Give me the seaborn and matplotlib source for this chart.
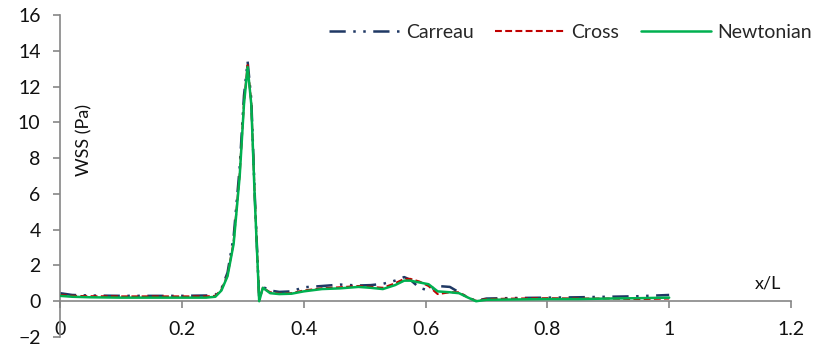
import numpy as np
import pandas as pd
import matplotlib
matplotlib.use("Agg")
import matplotlib.pyplot as plt
import seaborn as sns

# ---- data ----
x_over_L = [0, 0.02, 0.05, 0.1, 0.15, 0.2, 0.24, 0.255, 0.265, 0.275, 0.285, 0.295,
            0.302, 0.308, 0.314, 0.32, 0.327, 0.333, 0.345, 0.36, 0.38, 0.4, 0.43,
            0.46, 0.49, 0.51, 0.53, 0.55, 0.565, 0.575, 0.59, 0.605, 0.62, 0.64,
            0.655, 0.67, 0.683, 0.7, 0.75, 0.8, 0.85, 0.9, 0.95, 1.0]

carreau = [0.45, 0.35, 0.32, 0.30, 0.30, 0.30, 0.32, 0.35, 0.70, 1.6, 3.6, 7.5,
           11.5, 13.4, 11.3, 5.7, 0.10, 0.80, 0.60, 0.52, 0.55, 0.78, 0.85,
           0.93, 0.88, 0.90, 0.97, 1.15, 1.35, 1.20, 0.75, 0.60, 0.85, 0.80,
           0.50, 0.20, 0.02, 0.15, 0.18, 0.20, 0.22, 0.25, 0.28, 0.35]

cross = [0.35, 0.30, 0.28, 0.27, 0.27, 0.27, 0.27, 0.30, 0.65, 1.45, 3.3, 7.1,
         11.1, 13.2, 11.1, 5.6, 0.05, 0.75, 0.50, 0.42, 0.45, 0.60, 0.72,
         0.78, 0.85, 0.80, 0.75, 1.00, 1.25, 1.25, 1.10, 0.85, 0.40, 0.50,
         0.50, 0.20, 0.02, 0.12, 0.15, 0.17, 0.15, 0.15, 0.12, 0.15]

newtonian = [0.30, 0.25, 0.22, 0.20, 0.20, 0.20, 0.20, 0.25, 0.60, 1.4, 3.2, 7.0,
             11.0, 13.1, 11.0, 5.5, 0.0, 0.75, 0.45, 0.40, 0.42, 0.55, 0.68,
             0.72, 0.80, 0.75, 0.68, 0.90, 1.15, 1.15, 1.05, 0.95, 0.55, 0.50,
             0.45, 0.20, 0.0, 0.08, 0.10, 0.12, 0.12, 0.15, 0.17, 0.20]

series_names = ["Carreau", "Cross", "Newtonian"]
x_ticks = [0, 0.2, 0.4, 0.6, 0.8, 1, 1.2]
x_tick_labels = ["0", "0.2", "0.4", "0.6", "0.8", "1", "1.2"]
y_ticks = [-2, 0, 2, 4, 6, 8, 10, 12, 14, 16]

df = pd.DataFrame({"x": x_over_L, "Carreau": carreau, "Cross": cross,
                   "Newtonian": newtonian})

sns.set_style("white")
plt.rcParams["font.family"] = ["Lato", "DejaVu Sans"]

fig = plt.figure(figsize=(8.17, 3.48), dpi=100)
ax = fig.add_axes([60 / 817, 1 - 337 / 348, (791 - 60) / 817, (337 - 15) / 348])

styles = {
    "Carreau": dict(color="#1F3864", lw=1.8, dashes=(6.5, 3, 1, 3, 1, 3)),
    "Cross": dict(color="#C00000", lw=1.5, dashes=(3.3, 1.6)),
    "Newtonian": dict(color="#00B050", lw=1.8, dashes=None),
}
for name in series_names:
    st = styles[name]
    sns.lineplot(data=df, x="x", y=name, ax=ax, color=st["color"], lw=st["lw"],
                 label=name, zorder=3 if name == "Newtonian" else 2)
    line = ax.get_lines()[-1]
    if st["dashes"] is not None:
        line.set_dashes(st["dashes"])

ax.set_xlim(0, 1.2)
ax.set_ylim(-2, 16)
ax.set_xticks(x_ticks)
ax.set_xticklabels(x_tick_labels)
ax.set_yticks(y_ticks)
ax.set_xlabel("")
ax.set_ylabel("")

spine_col = "#868686"
for s in ["top", "right"]:
    ax.spines[s].set_visible(False)
ax.spines["bottom"].set_position(("data", 0))
ax.spines["bottom"].set_color(spine_col)
ax.spines["left"].set_color(spine_col)
ax.spines["bottom"].set_linewidth(1.2)
ax.spines["left"].set_linewidth(1.2)
ax.tick_params(axis="both", which="both", direction="out", length=5, width=1.2,
               color=spine_col, labelsize=14, labelcolor="#111111")
ax.tick_params(axis="x", pad=9, bottom=True)
ax.tick_params(axis="y", pad=9, left=True)

ax.text(0.04, 9.0, "WSS (Pa)", rotation=90, fontsize=13, color="#111111",
        ha="center", va="center")
ax.text(1.162, 1.0, "x/L", fontsize=13, color="#111111", ha="center", va="center")

leg = ax.legend(loc="upper right", bbox_to_anchor=(822 / 817, 1 - 14 / 348),
                bbox_transform=fig.transFigure, ncol=3, borderpad=0,
                frameon=False, fontsize=14, handlelength=3.6,
                columnspacing=1.1, handletextpad=0.35)

fig.savefig("out.png", dpi=100)
